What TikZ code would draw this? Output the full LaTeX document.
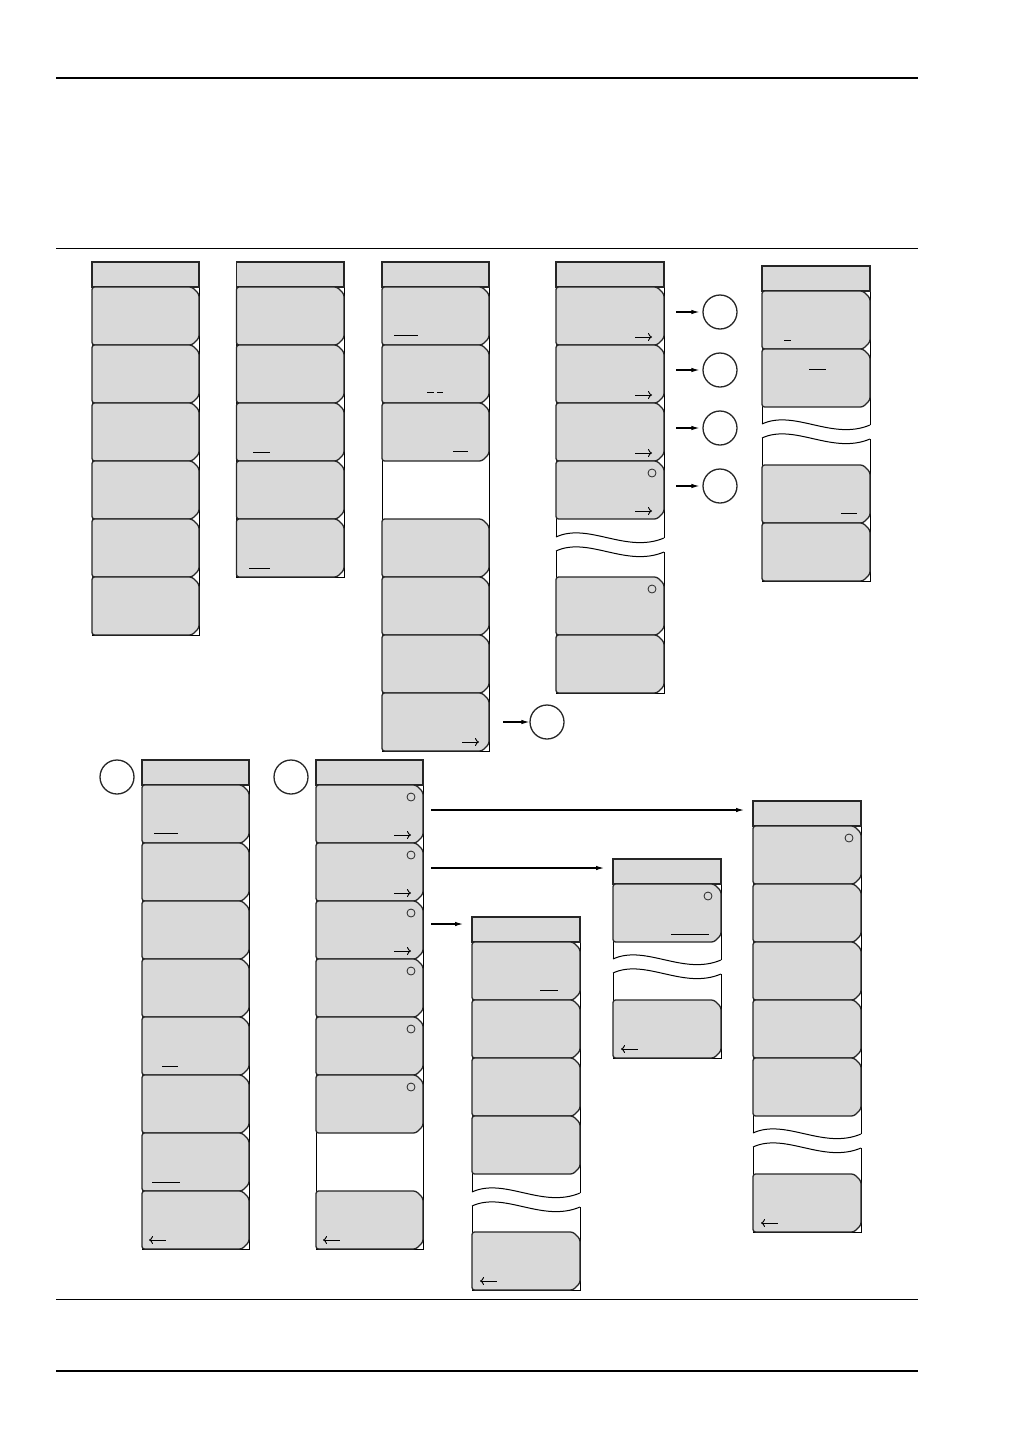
\documentclass[tikz,border=0pt]{standalone}
\usetikzlibrary{arrows.meta}
\definecolor{btngray}{RGB}{217,217,217}
\definecolor{edgec}{RGB}{38,38,38}
\tikzset{
  btn/.style={fill=btngray, draw=edgec, line width=1.3pt, rounded corners=2.5pt},
  hdr/.style={fill=btngray, draw=edgec, line width=1.8pt},
  outer/.style={draw=black, line width=1pt},
  wavel/.style={draw=black, line width=1pt},
  uline/.style={draw=black, line width=1pt},
  smallc/.style={circle, draw=edgec, line width=0.8pt, minimum size=8pt, inner sep=0pt},
  bigc/.style={circle, draw=edgec, line width=1.3pt, minimum size=34pt, inner sep=0pt},
  conn/.style={draw=black, line width=1.1pt, -{Latex[length=8pt,width=4.5pt]}},
  fwd/.style={draw=black, line width=0.9pt, -{Computer Modern Rightarrow[length=4pt,width=8pt]}},
  bwd/.style={draw=black, line width=0.9pt, {Computer Modern Rightarrow[length=4pt,width=8pt]}-},
}
% header: x0 x1 top
\newcommand\MHdr[3]{\path[hdr] (#1,#3) rectangle (#2,{#3+25});}
% button: x0 x1 top
\newcommand\MBtn[3]{\path[btn] ({#2-7},#3) -- (#1,#3) -- (#1,{#3+58}) -- ({#2-7},{#3+58}) -- (#2,{#3+51}) -- (#2,{#3+7}) -- cycle;}
% wave: x0 x1 y
\newcommand\MWave[3]{\draw[wavel] (#1,#3) .. controls ({#1+0.3*(#2-#1)},{#3-15}) and ({#1+0.65*(#2-#1)},{#3+17}) .. (#2,{#3+1});}
% outer with break: x0 x1 top w1 w2 bottom
\newcommand\MOutBrk[6]{%
  \draw[outer] (#1,#4) -- (#1,#3) -- (#2,#3) -- (#2,{#4+1});
  \draw[outer] (#1,#5) -- (#1,#6) -- (#2,#6) -- (#2,{#5+1});
  \MWave{#1}{#2}{#4}\MWave{#1}{#2}{#5}}
\begin{document}
\begin{tikzpicture}[x=1pt,y=-1pt]
\useasboundingbox (0,0) rectangle (1032,1456);
% page rules
\draw[line width=2.6pt] (56,78) -- (918,78);
\draw[line width=1pt] (56,248.7) -- (918,248.7);
\draw[line width=1.3pt] (56,1299.5) -- (918,1299.5);
\draw[line width=1.3pt] (56,1371) -- (918,1371);

% ---------- Column 1
\draw[outer] (92,262) rectangle (199,635);
\MHdr{92}{199}{262}
\foreach \t in {287,345,...,577} {\MBtn{92}{199}{\t}}

% ---------- Column 2
\draw[outer] (236.5,262) rectangle (344,577);
\MHdr{236.5}{344}{262}
\foreach \t in {287,345,...,519} {\MBtn{236.5}{344}{\t}}
\draw[uline] (253,452) -- (270,452);
\draw[uline] (249,568) -- (270,568);

% ---------- Column 3
\draw[outer] (382,262) rectangle (489,751);
\MHdr{382}{489}{262}
\foreach \t in {287,345,403,519,577,635,693} {\MBtn{382}{489}{\t}}
\draw[uline] (394,335) -- (418,335);
\draw[uline] (427,392) -- (434,392);
\draw[uline] (437,392) -- (443,392);
\draw[uline] (453,451) -- (468,451);
\draw[fwd] (462,742) -- (479,742);
\node[bigc] (cE) at (547,722) {};
\coordinate (sE) at (503,722);
\draw[conn] (sE) -- (cE);

% ---------- Column 4
\MOutBrk{556}{664}{262}{537}{551}{693}
\MHdr{556}{664}{262}
\foreach \t in {287,345,403,461,577,635} {\MBtn{556}{664}{\t}}
\foreach \t in {287,345,403,461} {\draw[fwd] (635,{\t+50}) -- (652,{\t+50});}
\node[smallc] (s4a) at (652,473) {};
\node[smallc] (s4b) at (652,589) {};
\foreach \i/\y in {A/312,B/370,C/428,D/486} {
  \node[bigc] (c\i) at (720,\y) {};
  \coordinate (s\i) at (676,\y);
  \draw[conn, shorten >=3pt] (s\i) -- (c\i);
}

% ---------- Column 5
\MOutBrk{762}{870}{266}{424}{438}{581}
\MHdr{762}{870}{266}
\foreach \t in {291,349,465,523} {\MBtn{762}{870}{\t}}
\draw[uline] (784,340) -- (791,340);
\draw[uline] (809,369) -- (826,369);
\draw[uline] (841,513) -- (857,513);

% ---------- Column 6
\node[bigc] (cF) at (117,777) {};
\draw[outer] (142,760) rectangle (249,1249);
\MHdr{142}{249}{760}
\foreach \t in {785,843,...,1191} {\MBtn{142}{249}{\t}}
\draw[uline] (154,833) -- (178,833);
\draw[uline] (162,1066) -- (178,1066);
\draw[uline] (152,1182) -- (180,1182);
\draw[bwd] (149,1240) -- (166,1240);

% ---------- Column 7
\node[bigc] (cG) at (291,777) {};
\draw[outer] (316,760) rectangle (423,1249);
\MHdr{316}{423}{760}
\foreach \t in {785,843,...,1075} {\MBtn{316}{423}{\t}
  \node[smallc] (s7-\t) at (411,{\t+12}) {};}
\MBtn{316}{423}{1191}
\foreach \t in {785,843,901} {\draw[fwd] (394,{\t+50}) -- (411,{\t+50});}
\draw[bwd] (323,1240) -- (340,1240);

% ---------- Column 8
\MOutBrk{472}{580}{917}{1192}{1206}{1290}
\MHdr{472}{580}{917}
\foreach \t in {942,1000,1058,1116,1232} {\MBtn{472}{580}{\t}}
\draw[uline] (540,990) -- (558,990);
\draw[bwd] (480,1281) -- (497,1281);

% ---------- Column 9
\MOutBrk{613}{721}{859}{959}{973}{1058}
\MHdr{613}{721}{859}
\foreach \t in {884,1000} {\MBtn{613}{721}{\t}}
\node[smallc] (s9a) at (708,896) {};
\draw[uline] (671,934) -- (709,934);
\draw[bwd] (621,1049) -- (638,1049);

% ---------- Column 10
\MOutBrk{753}{861}{801}{1133}{1147}{1232}
\MHdr{753}{861}{801}
\foreach \t in {826,884,942,1000,1058,1174} {\MBtn{753}{861}{\t}}
\node[smallc] (s10a) at (849,838) {};
\draw[bwd] (761,1223) -- (778,1223);

% ---------- Connectors from column 7
\coordinate (p1) at (431,810);
\coordinate (h10) at (753,810);
\coordinate (p2) at (431,868);
\coordinate (h9) at (613,868);
\coordinate (p3) at (431,924);
\coordinate (h8) at (472,924);
\draw[conn, shorten >=9pt] (p1) -- (h10);
\draw[conn, shorten >=9pt] (p2) -- (h9);
\draw[conn, shorten >=9pt] (p3) -- (h8);
\end{tikzpicture}
\end{document}
